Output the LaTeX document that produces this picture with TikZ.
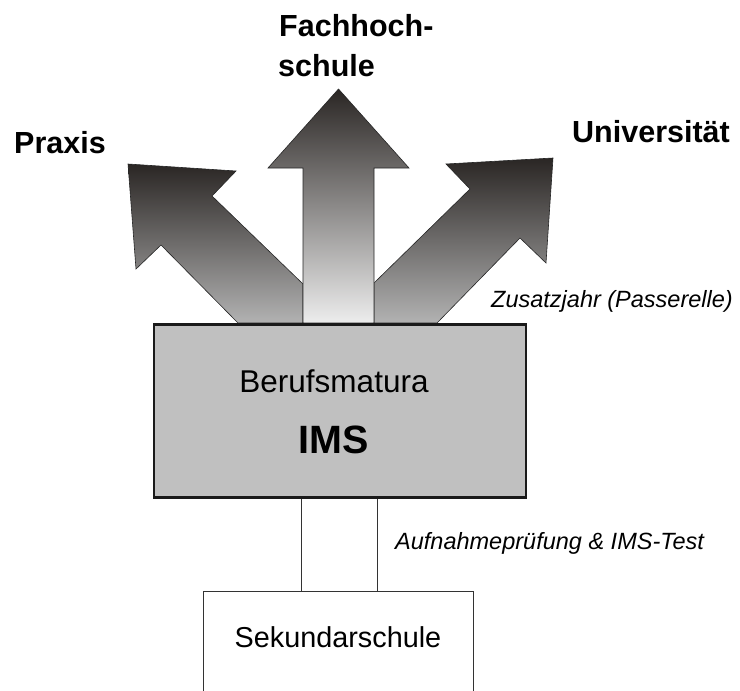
\documentclass[tikz,border=0pt]{standalone}
\usepackage{fontspec}
\setmainfont{Liberation Sans}
\definecolor{arrtop}{HTML}{2A2624}
\definecolor{arrbotmid}{HTML}{EDEDED}
\definecolor{arrbotside}{HTML}{B2B2B2}
\definecolor{boxfill}{HTML}{C0C0C0}
\definecolor{boxline}{HTML}{1A1A1A}
\begin{document}
\begin{tikzpicture}[x=1pt,y=-1pt,
  arrowshape/.style={draw=black!85,line width=0.6pt,top color=arrtop},
  headlbl/.style={font=\fontsize{30.5}{36}\selectfont\bfseries,inner sep=0pt,anchor=base west},
  notelbl/.style={font=\fontsize{23.5}{28}\selectfont\itshape,inner sep=0pt,anchor=base west},
  bigbox/.style={draw=boxline,line width=2.6pt,fill=boxfill,minimum width=372pt,minimum height=173pt,inner sep=0pt},
  smallbox/.style={draw=black!80,line width=0.7pt,fill=white,minimum width=270pt,inner sep=0pt,text height=56pt,text depth=80pt,font=\fontsize{28.8}{34}\selectfont},
  link/.style={draw=black!80,line width=0.7pt}]
\useasboundingbox (0,0) rectangle (740,691);
\clip (0,0) rectangle (740,691);
% side arrows
\shadedraw[arrowshape,bottom color=arrbotside] (238,323) -- (161,245) -- (136,269) -- (128,164) -- (236,171) -- (212,196) -- (303,284) -- (303,323) -- cycle;
\shadedraw[arrowshape,bottom color=arrbotside] (437,323) -- (520,238) -- (546,263) -- (553,158) -- (446,164) -- (470,189) -- (374,283) -- (374,323) -- cycle;
% middle arrow
\shadedraw[arrowshape,bottom color=arrbotmid] (303,323) -- (303,168) -- (268,168) -- (338.5,89) -- (409,168) -- (374,168) -- (374,323) -- cycle;
% labels at top
\node[headlbl] (fach1) at (279,36) {Fachhoch-};
\node[headlbl] (fach2) at (278,76) {schule};
\node[headlbl] (praxis) at (14,153) {Praxis};
\node[headlbl] (uni) at (572,142) {Universität};
\node[notelbl] (zusatz) at (491,307) {Zusatzjahr (Passerelle)};
% main box
\node[bigbox] (ims) at (340,411) {};
\node[font=\fontsize{31.5}{36}\selectfont,inner sep=0pt,anchor=base] (beruf) at (334,392) {Berufsmatura};
\node[font=\fontsize{39.5}{44}\selectfont\bfseries,inner sep=0pt,anchor=base] (imslbl) at (334,453) {IMS};
% lower box
\node[smallbox,anchor=base] (sek) at (338,647) {Sekundarschule};
\draw[link] (ims.south -| 301,0) -- (sek.north -| 301,0);
\draw[link] (ims.south -| 377,0) -- (sek.north -| 377,0);
\node[notelbl] (aufn) at (395,549) {Aufnahmeprüfung \& IMS-Test};
\end{tikzpicture}
\end{document}
